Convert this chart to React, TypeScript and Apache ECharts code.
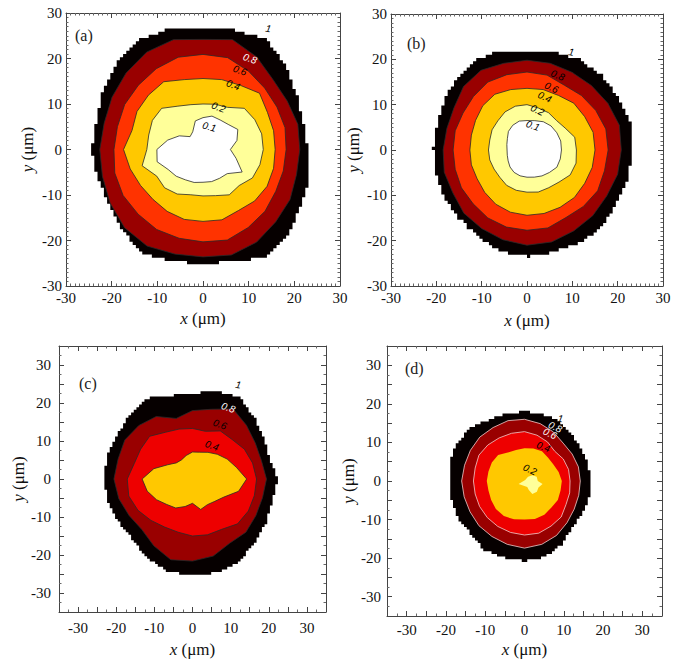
import React, { useEffect, useRef } from "react";
import * as echarts from "echarts";

// ---------- data: contour boundaries as radii (µm) at equally spaced angles from +x (counter-clockwise) ----------
// Panel (a): levels 1, 0.8, 0.6, 0.4, 0.2, 0.1
const A_1 = [23, 22.8, 23.8, 25.8, 28, 27.2, 26.3, 27.5, 27.8, 26.8, 25.4, 24.1, 24.4, 24.1, 23.9, 25, 26.6, 25.4, 25.2, 25.4, 27.5, 26.5, 24.6, 24.2];
const A_08 = [21.2, 21.5, 21.3, 21.7, 23.5, 25, 24.2, 25, 24.7, 23.8, 23, 22.4, 22.6, 22.8, 23.5, 24.3, 24.5, 23.8, 23.6, 24, 23.5, 22.5, 22, 21.2];
const A_06 = [18.2, 18.6, 18.7, 19.1, 19.9, 20.9, 20.9, 21, 20.5, 20, 19.8, 19.4, 19.5, 20, 20.2, 20.1, 20.3, 20.2, 20.3, 20.6, 19.8, 19.2, 18.4, 18.2];
const A_04 = [15.8, 16, 16.3, 17.5, 16.3, 15.9, 15.6, 15.9, 17.2, 16.9, 16.7, 16.1, 17.4, 16.5, 15.8, 15.5, 15.7, 15.9, 15.8, 16, 15.5, 16, 16.2, 16];
const A_02 = [13.2, 13.3, 13.1, 12.8, 10.7, 10.3, 10, 10.2, 11, 12.8, 12.8, 12.3, 12.3, 13.8, 11.7, 11.9, 11.3, 10.3, 10.2, 10.5, 11.5, 11.2, 12.5, 12.9];
const A_01 = [6, 7.7, 8.8, 7.8, 7.5, 7.6, 7, 6.5, 4.5, 4, 6, 8, 10.1, 10.4, 8.8, 8.3, 7.7, 7.5, 7.2, 7.3, 7.3, 7.5, 9.9, 7.5];

// Panel (b)
const B_1 = [23.4, 23.7, 23.2, 23.5, 23.1, 22.5, 22, 22.7, 22.9, 22.1, 21.2, 20.6, 20.7, 20.9, 21.3, 21.4, 22, 23.2, 23.5, 23.3, 23.6, 23.6, 23, 23.1];
const B_08 = [20.8, 21.1, 20.6, 20.1, 19.8, 19.8, 19.8, 19.8, 20.3, 19.8, 18.6, 18.3, 18.5, 18.9, 18.9, 19.7, 20, 20.5, 21, 21, 20.6, 20.5, 20.3, 20.7];
const B_06 = [17.9, 18, 17.5, 17, 16.5, 17.1, 17.2, 17.2, 17.3, 16.7, 16.3, 16.4, 16.3, 16.4, 16.7, 16.8, 17.3, 17.6, 17.7, 17.8, 17.2, 17.6, 18, 17.7];
const B_04 = [15, 15.1, 14.7, 14.6, 13.9, 13.8, 13.6, 13.8, 14.2, 13.8, 13.1, 12.7, 12.6, 12.7, 12.7, 13.2, 13.8, 14.2, 14.4, 14.5, 14.6, 14.8, 14.7, 14.9];
const B_02 = [10.9, 10.9, 9.7, 9.2, 9.5, 9.6, 10, 10, 9.7, 9.1, 8.9, 8.5, 8.5, 8.5, 8.4, 8.5, 9, 9.2, 9.3, 9.6, 9.6, 10, 11, 11.2];
const B_01 = [7.6, 7.7, 7.6, 7.5, 7.2, 6.7, 6.5, 6.6, 6.3, 5.8, 5, 4.6, 4.4, 4.5, 4.8, 5.3, 5.7, 5.9, 6, 6.2, 6.6, 7, 7.6, 7.6];

// Panel (c): levels 1, 0.8, 0.6, 0.4
const C_1 = [22.4, 21, 21.8, 23, 25, 24, 22.5, 22.7, 24.5, 23.5, 22.8, 23.1, 23.2, 23, 22.5, 22.5, 24, 25.3, 25.3, 25.5, 24.9, 23.3, 22.4, 21.7];
const C_08 = [19.4, 18.7, 19, 20, 21.3, 19, 18, 16.5, 19, 19.9, 20.5, 20.2, 20.6, 20, 19.2, 18.8, 20.3, 22, 21.6, 21, 19.5, 19.8, 19.2, 19];
const C_06 = [16.8, 16.3, 15.7, 14.7, 14.6, 13, 13.3, 13.6, 14.2, 15.9, 15.7, 15.8, 17.1, 17.3, 16.5, 15.4, 14.6, 14.5, 15, 15.2, 15.3, 16.7, 16.9, 16.8];
const C_04 = [14.2, 11.9, 10.5, 9.2, 8.1, 7.3, 7.1, 6.4, 5.8, 6, 7.5, 10.5, 13.2, 12.3, 10.9, 9.5, 8.8, 7.5, 6.4, 8.3, 7.8, 8.3, 9.5, 12.5];

// Panel (d): levels 1, 0.8, 0.6, 0.4, 0.2 (0.2 patch centred at (2, -0.8))
const D_1 = [17.1, 16.8, 16.9, 17.1, 17.9, 18, 18, 18.1, 18.3, 19.4, 19.7, 19.7, 19.2, 19.3, 19.5, 19.4, 20.7, 20.6, 20.8, 20.4, 18.9, 17.2, 16.9, 17];
const D_08 = [14.2, 14.2, 14, 13.9, 14.7, 15.4, 16, 16.2, 16, 16.1, 15.9, 15.8, 16, 15.9, 16, 16.4, 16.6, 17, 17.4, 17, 16.3, 15.3, 14.6, 14.3];
const D_06 = [11.6, 11.6, 11.4, 10.9, 11.7, 12.3, 12.8, 12.8, 12.9, 13.2, 13.4, 13, 13, 13, 13.2, 13.4, 13.6, 13.8, 14, 14, 13.5, 13.2, 12.2, 11.9];
const D_04 = [9.5, 9, 8.5, 8.5, 8.9, 8.7, 8.5, 8.3, 8.5, 9.5, 9.6, 9.5, 9.6, 9.5, 9.8, 10.3, 10.5, 10.3, 10, 10.2, 10.1, 9.7, 9.8, 9.5];
const D_02 = [2.6, 1.6, 2.2, 2.3, 2.2, 2.1, 3.5, 1.5, 1.8, 2.6, 2.3, 1.8];
const D_02_center = [2, -0.8];

// contour labels
const labelsA = ["1", "0.8", "0.6", "0.4", "0.2", "0.1"];
const labelPosA = [[14.3, 26.6], [10.3, 20], [8.1, 17.4], [6.6, 14.2], [3.4, 9.3], [1.4, 5]];
const labelsB = ["1", "0.8", "0.6", "0.4", "0.2", "0.1"];
const labelPosB = [[9.8, 21.6], [6.8, 16.5], [5.4, 13.8], [3.9, 11.7], [2.3, 8.8], [1.3, 5.4]];
const labelsC = ["1", "0.8", "0.6", "0.4"];
const labelPosC = [[12, 24.8], [9.4, 18.8], [7.2, 14.4], [5.1, 8.8]];
const labelsD = ["1", "0.8", "0.6", "0.4", "0.2"];
const labelPosD = [[9.1, 16.2], [7.8, 14], [6.5, 12.3], [4.8, 8.9], [1.4, 3]];

const panelNames = ["(a)", "(b)", "(c)", "(d)"];

// ---------- styling ----------
const BLACK = "#060000";
const DARKRED = "#990000";
const ORANGERED = "#ff3300";
const RED = "#ee0000";
const GOLD = "#ffc800";
const PALE = "#ffff99";
const WHITE = "#ffffff";
const OUTER_STEP = 0.7; // µm, pixelation of the ragged outer edge

type Ring = { r: number[]; c: number[]; fill: string; stroke: string; lw: number; step: number };

const panels = [
  {
    grid: { left: 66, top: 13, width: 274, height: 273 },
    range: 30, interval: 10, minor: 10, labMargin: 4, xGap: 24, yGap: 30,
    rings: [
      { r: A_1, fill: BLACK }, { r: A_08, fill: DARKRED }, { r: A_06, fill: ORANGERED },
      { r: A_04, fill: GOLD }, { r: A_02, fill: PALE }, { r: A_01, fill: WHITE },
    ],
    lineColor: "#2a2a2a",
    labels: labelsA, labelPos: labelPosA,
    labelColors: ["#000", "#fff", "#000", "#000", "#000", "#000"],
    rot: [-10, -20, -20, -20, -20, -15],
    name: [75, 35],
  },
  {
    grid: { left: 391, top: 14, width: 272, height: 272 },
    range: 30, interval: 10, minor: 10, labMargin: 4, xGap: 26, yGap: 29,
    rings: [
      { r: B_1, fill: BLACK }, { r: B_08, fill: DARKRED }, { r: B_06, fill: ORANGERED },
      { r: B_04, fill: GOLD }, { r: B_02, fill: PALE }, { r: B_01, fill: WHITE },
    ],
    lineColor: "#2a2a2a",
    labels: labelsB, labelPos: labelPosB,
    labelColors: ["#000", "#000", "#000", "#000", "#000", "#000"],
    rot: [-10, -22, -25, -25, -25, -20],
    name: [407, 43],
  },
  {
    grid: { left: 59, top: 346, width: 267, height: 269 },
    range: 35, interval: 5, minor: 2, labMargin: 8, xGap: 29, yGap: 32,
    rings: [
      { r: C_1, fill: BLACK }, { r: C_08, fill: DARKRED }, { r: C_06, fill: RED }, { r: C_04, fill: GOLD },
    ],
    lineColor: "#2a2a2a",
    labels: labelsC, labelPos: labelPosC,
    labelColors: ["#000", "#fff", "#000", "#000"],
    rot: [-10, -20, -20, -20],
    name: [79, 383],
  },
  {
    grid: { left: 387, top: 346, width: 275, height: 275 },
    range: 35, interval: 5, minor: 2, labMargin: 6, xGap: 25, yGap: 25,
    rings: [
      { r: D_1, fill: BLACK }, { r: D_08, fill: DARKRED }, { r: D_06, fill: RED }, { r: D_04, fill: GOLD },
      { r: D_02, fill: PALE, c: D_02_center },
    ],
    lineColor: "#f3cccc",
    labels: labelsD, labelPos: labelPosD,
    labelColors: ["#000", "#fff", "#fff", "#000", "#000"],
    rot: [-10, -25, -25, -20, -25],
    name: [405, 368],
  },
];

const SERIF = "Liberation Serif";

// outline of a ring in data units; the outer edge is drawn on the measurement grid (staircase)
function ringOutline(rg: Ring): number[][] {
  const n = rg.r.length;
  const verts = rg.r.map((rad, k) => {
    const t = (2 * Math.PI * k) / n;
    return [rg.c[0] + rad * Math.cos(t), rg.c[1] + rad * Math.sin(t)];
  });
  if (!rg.step) return verts;
  const g = rg.step;
  const snap = (v: number) => Math.round(v / g) * g;
  const out: number[][] = [];
  const push = (q: number[]) => {
    const last = out[out.length - 1];
    if (last && Math.abs(last[0] - q[0]) < 1e-9 && Math.abs(last[1] - q[1]) < 1e-9) return;
    if (last && Math.abs(last[0] - q[0]) > 1e-9 && Math.abs(last[1] - q[1]) > 1e-9) {
      out.push([q[0], last[1]]);
    }
    out.push(q);
  };
  for (let k = 0; k < n; k++) {
    const a = verts[k];
    const b = verts[(k + 1) % n];
    const len = Math.hypot(b[0] - a[0], b[1] - a[1]);
    const steps = Math.max(1, Math.ceil(len / (g * 0.4)));
    for (let s = 0; s < steps; s++) {
      const f = s / steps;
      push([snap(a[0] + (b[0] - a[0]) * f), snap(a[1] + (b[1] - a[1]) * f)]);
    }
  }
  return out;
}

export default function App() {
  const ref = useRef<HTMLDivElement>(null);
  useEffect(() => {
    if (!ref.current) return;
    const chart = echarts.init(ref.current, undefined, { renderer: "svg" });
    const grids: any[] = [];
    const xAxes: any[] = [];
    const yAxes: any[] = [];
    const series: any[] = [];
    const graphics: any[] = [];

    panels.forEach((p, pi) => {
      grids.push({ ...p.grid, containLabel: false });
      const common = (pos: string, showLabel: boolean, isX: boolean) => ({
        type: "value",
        gridIndex: pi,
        min: -p.range,
        max: p.range,
        interval: p.interval,
        position: pos,
        axisLine: { show: true, onZero: false, lineStyle: { color: "#444", width: 1 } },
        axisTick: { show: true, inside: true, length: 5, lineStyle: { color: "#444", width: 1 } },
        minorTick: { show: true, splitNumber: p.minor, length: 2.5, lineStyle: { color: "#666", width: 1 } },
        splitLine: { show: false },
        minorSplitLine: { show: false },
        axisLabel: {
          show: showLabel,
          color: "#111",
          fontFamily: SERIF,
          fontSize: 15,
          margin: p.labMargin,
          formatter: (v: number) => (Math.round(v) % 10 === 0 ? String(Math.round(v)) : ""),
        },
        ...(showLabel
          ? {
              name: isX ? "{i|x} (μm)" : "{i|y} (μm)",
              nameLocation: "middle",
              nameGap: isX ? p.xGap : p.yGap,
              nameTextStyle: {
                color: "#111",
                fontFamily: SERIF,
                fontSize: 17,
                rich: { i: { fontStyle: "italic", fontFamily: SERIF, fontSize: 17, color: "#111" } },
              },
            }
          : {}),
      });
      xAxes.push(common("bottom", true, true));
      xAxes.push(common("top", false, true));
      yAxes.push(common("left", true, false));
      yAxes.push(common("right", false, false));

      const rings: Ring[] = p.rings.map((rg: any, k: number) => ({
        r: rg.r,
        c: rg.c || [0, 0],
        fill: rg.fill,
        stroke: k === 0 ? "none" : p.lineColor,
        lw: k === 0 ? 0 : pi === 3 && k >= 3 ? 0 : 0.8,
        step: k === 0 ? OUTER_STEP : 0,
      }));
      const outlines = rings.map(ringOutline);

      series.push({
        type: "custom",
        xAxisIndex: pi * 2,
        yAxisIndex: pi * 2,
        coordinateSystem: "cartesian2d",
        clip: true,
        silent: true,
        data: rings.map((rg) => [rg.c[0], rg.c[1]]),
        encode: { x: 0, y: 1 },
        renderItem: (params: any, api: any) => {
          const rg = rings[params.dataIndex];
          const pts = outlines[params.dataIndex].map((q) => api.coord(q));
          return {
            type: "polygon",
            shape: { points: pts },
            style: { fill: rg.fill, stroke: rg.stroke, lineWidth: rg.lw, lineJoin: "round" },
          };
        },
        z: 2,
      });

      series.push({
        type: "custom",
        xAxisIndex: pi * 2,
        yAxisIndex: pi * 2,
        coordinateSystem: "cartesian2d",
        silent: true,
        data: p.labelPos.map((q) => [q[0], q[1]]),
        encode: { x: 0, y: 1 },
        renderItem: (params: any, api: any) => {
          const i = params.dataIndex;
          const pt = api.coord([api.value(0), api.value(1)]);
          return {
            type: "text",
            x: pt[0],
            y: pt[1],
            rotation: (p.rot[i] * Math.PI) / 180,
            style: {
              text: p.labels[i],
              fill: p.labelColors[i],
              fontFamily: "Liberation Sans",
              fontStyle: "italic",
              fontSize: 10,
              align: "center",
              verticalAlign: "middle",
            },
          };
        },
        z: 3,
      });

      graphics.push({
        type: "text",
        x: p.name[0],
        y: p.name[1],
        style: {
          text: panelNames[pi],
          fill: "#222",
          fontFamily: SERIF,
          fontSize: 16,
          verticalAlign: "middle",
        },
        z: 10,
      });
    });

    chart.setOption({
      animation: false,
      backgroundColor: "#ffffff",
      textStyle: { fontFamily: SERIF },
      grid: grids,
      xAxis: xAxes,
      yAxis: yAxes,
      series,
      graphic: graphics,
    });
    return () => chart.dispose();
  }, []);

  return (
    <div
      ref={ref}
      style={{ position: "fixed", left: 0, top: 0, width: 683, height: 659, background: "#fff" }}
    />
  );
}
